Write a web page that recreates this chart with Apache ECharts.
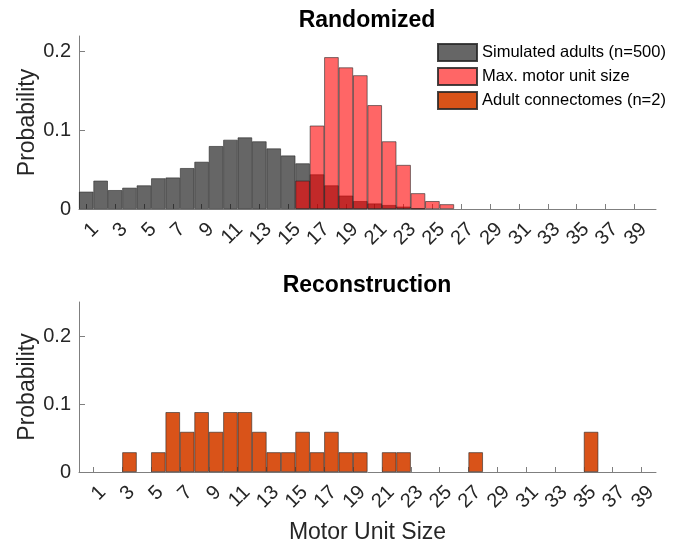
<!DOCTYPE html>
<html>
<head>
<meta charset="utf-8">
<script src="https://cdn.jsdelivr.net/npm/echarts@6/dist/echarts.min.js"></script>
<style>
  html, body { margin: 0; padding: 0; background: #ffffff; }
  #chart { width: 697px; height: 545px; }
</style>
</head>
<body>
<div id="chart"></div>
<script>
// Odd motor unit sizes used as tick positions on both x axes
const sizeTicks = [1, 3, 5, 7, 9, 11, 13, 15, 17, 19, 21, 23, 25, 27, 29, 31, 33, 35, 37, 39];
const probTicks = [0, 0.1, 0.2];

// Randomized: motor unit sizes of simulated adults (bins centred on each size)
const simulatedSizes = [1, 2, 3, 4, 5, 6, 7, 8, 9, 10, 11, 12, 13, 14, 15, 16, 17, 18, 19, 20, 21, 22, 23, 24];
const simulatedProb = [0.022, 0.036, 0.024, 0.027, 0.030, 0.039, 0.040, 0.052, 0.060, 0.080, 0.088, 0.091,
                       0.086, 0.077, 0.068, 0.058, 0.044, 0.030, 0.017, 0.010, 0.007, 0.005, 0.003, 0.001];

// Randomized: largest motor unit per simulated adult
const maxSizes = [16, 17, 18, 19, 20, 21, 22, 23, 24, 25, 26];
const maxProb = [0.036, 0.106, 0.193, 0.180, 0.170, 0.132, 0.086, 0.056, 0.020, 0.010, 0.006];

// Reconstruction: adult connectomes, bins [size, size + 1)
const connectomeBins = [3, 5, 6, 7, 8, 9, 10, 11, 12, 13, 14, 15, 16, 17, 18, 19, 21, 22, 27, 35];
const connectomeProb = [0.029, 0.029, 0.088, 0.059, 0.088, 0.059, 0.088, 0.088, 0.059, 0.029,
                        0.029, 0.059, 0.029, 0.059, 0.029, 0.029, 0.029, 0.029, 0.029, 0.059];

const FONT = "'Liberation Sans', Arial, Helvetica, sans-serif";
const AXIS_GRAY = '#7f7f7f';
const TEXT_DARK = '#262626';
const EDGE = 'rgba(38,38,38,0.85)';

function pairs(xs, ys, shift) {
  return xs.map((x, i) => [x + shift, ys[i]]);
}

function xAxisFor(gridIndex, min, max, name) {
  return {
    type: 'value', gridIndex, min, max,
    name: name || '',
    nameLocation: 'middle',
    nameGap: 49,
    nameMoveOverlap: false,
    nameTextStyle: { fontFamily: FONT, fontSize: 23, color: TEXT_DARK },
    axisLine: { show: true, onZero: false, lineStyle: { color: AXIS_GRAY, width: 1 } },
    axisTick: { show: true, inside: true, length: 5, customValues: sizeTicks,
                lineStyle: { color: AXIS_GRAY, width: 1 } },
    axisLabel: { show: true, rotate: 45, margin: 8, align: 'right', verticalAlign: 'top',
                 padding: [3, 0, 0, 0],
                 fontFamily: FONT, fontSize: 20, color: TEXT_DARK, customValues: sizeTicks },
    splitLine: { show: false }
  };
}

function yAxisFor(gridIndex, max) {
  return {
    type: 'value', gridIndex, min: 0, max,
    name: 'Probability',
    nameLocation: 'middle',
    nameGap: 40,
    nameMoveOverlap: false,
    nameTextStyle: { fontFamily: FONT, fontSize: 23, color: TEXT_DARK },
    axisLine: { show: true, lineStyle: { color: AXIS_GRAY, width: 1 } },
    axisTick: { show: true, inside: true, length: 6, customValues: probTicks,
                lineStyle: { color: AXIS_GRAY, width: 1 } },
    axisLabel: { show: true, margin: 8, fontFamily: FONT, fontSize: 20, color: TEXT_DARK,
                 customValues: probTicks },
    splitLine: { show: false }
  };
}

const chart = echarts.init(document.getElementById('chart'), null, { renderer: 'canvas' });

chart.setOption({
  animation: false,
  backgroundColor: '#ffffff',
  title: [
    { text: 'Randomized', left: 367, top: 9, textAlign: 'center', padding: 0,
      textStyle: { fontFamily: FONT, fontSize: 23, fontWeight: 'bold', color: '#000' } },
    { text: 'Reconstruction', left: 367, top: 274, textAlign: 'center', padding: 0,
      textStyle: { fontFamily: FONT, fontSize: 23, fontWeight: 'bold', color: '#000' } }
  ],
  legend: {
    orient: 'vertical',
    left: 437, top: 43,
    padding: 0,
    icon: 'rect',
    itemWidth: 39, itemHeight: 17, itemGap: 5,
    selectedMode: false,
    textStyle: { fontFamily: FONT, fontSize: 16.5, color: '#000' },
    data: ['Simulated adults (n=500)', 'Max. motor unit size', 'Adult connectomes (n=2)']
  },
  grid: [
    { left: 79, top: 36, width: 577, height: 173 },
    { left: 79, top: 302, width: 577, height: 172 }
  ],
  xAxis: [
    xAxisFor(0, 0.5, 40.5),
    xAxisFor(1, 0, 40, 'Motor Unit Size')
  ],
  yAxis: [
    yAxisFor(0, 0.22),
    yAxisFor(1, 0.25)
  ],
  series: [
    {
      name: 'Simulated adults (n=500)', type: 'bar',
      xAxisIndex: 0, yAxisIndex: 0,
      data: pairs(simulatedSizes, simulatedProb, 0),
      barWidth: '100%', barGap: '-100%',
      itemStyle: { color: 'rgba(0,0,0,0.6)', borderColor: EDGE, borderWidth: 0.7 }
    },
    {
      name: 'Max. motor unit size', type: 'bar',
      xAxisIndex: 0, yAxisIndex: 0,
      data: pairs(maxSizes, maxProb, 0),
      barWidth: '100%', barGap: '-100%',
      itemStyle: { color: 'rgba(255,0,0,0.6)', borderColor: EDGE, borderWidth: 0.7 }
    },
    {
      name: 'Adult connectomes (n=2)', type: 'bar',
      xAxisIndex: 1, yAxisIndex: 1,
      data: pairs(connectomeBins, connectomeProb, 0.5),
      barWidth: '100%',
      itemStyle: { color: '#D95319', borderColor: EDGE, borderWidth: 0.7 }
    }
  ]
});
</script>
</body>
</html>
